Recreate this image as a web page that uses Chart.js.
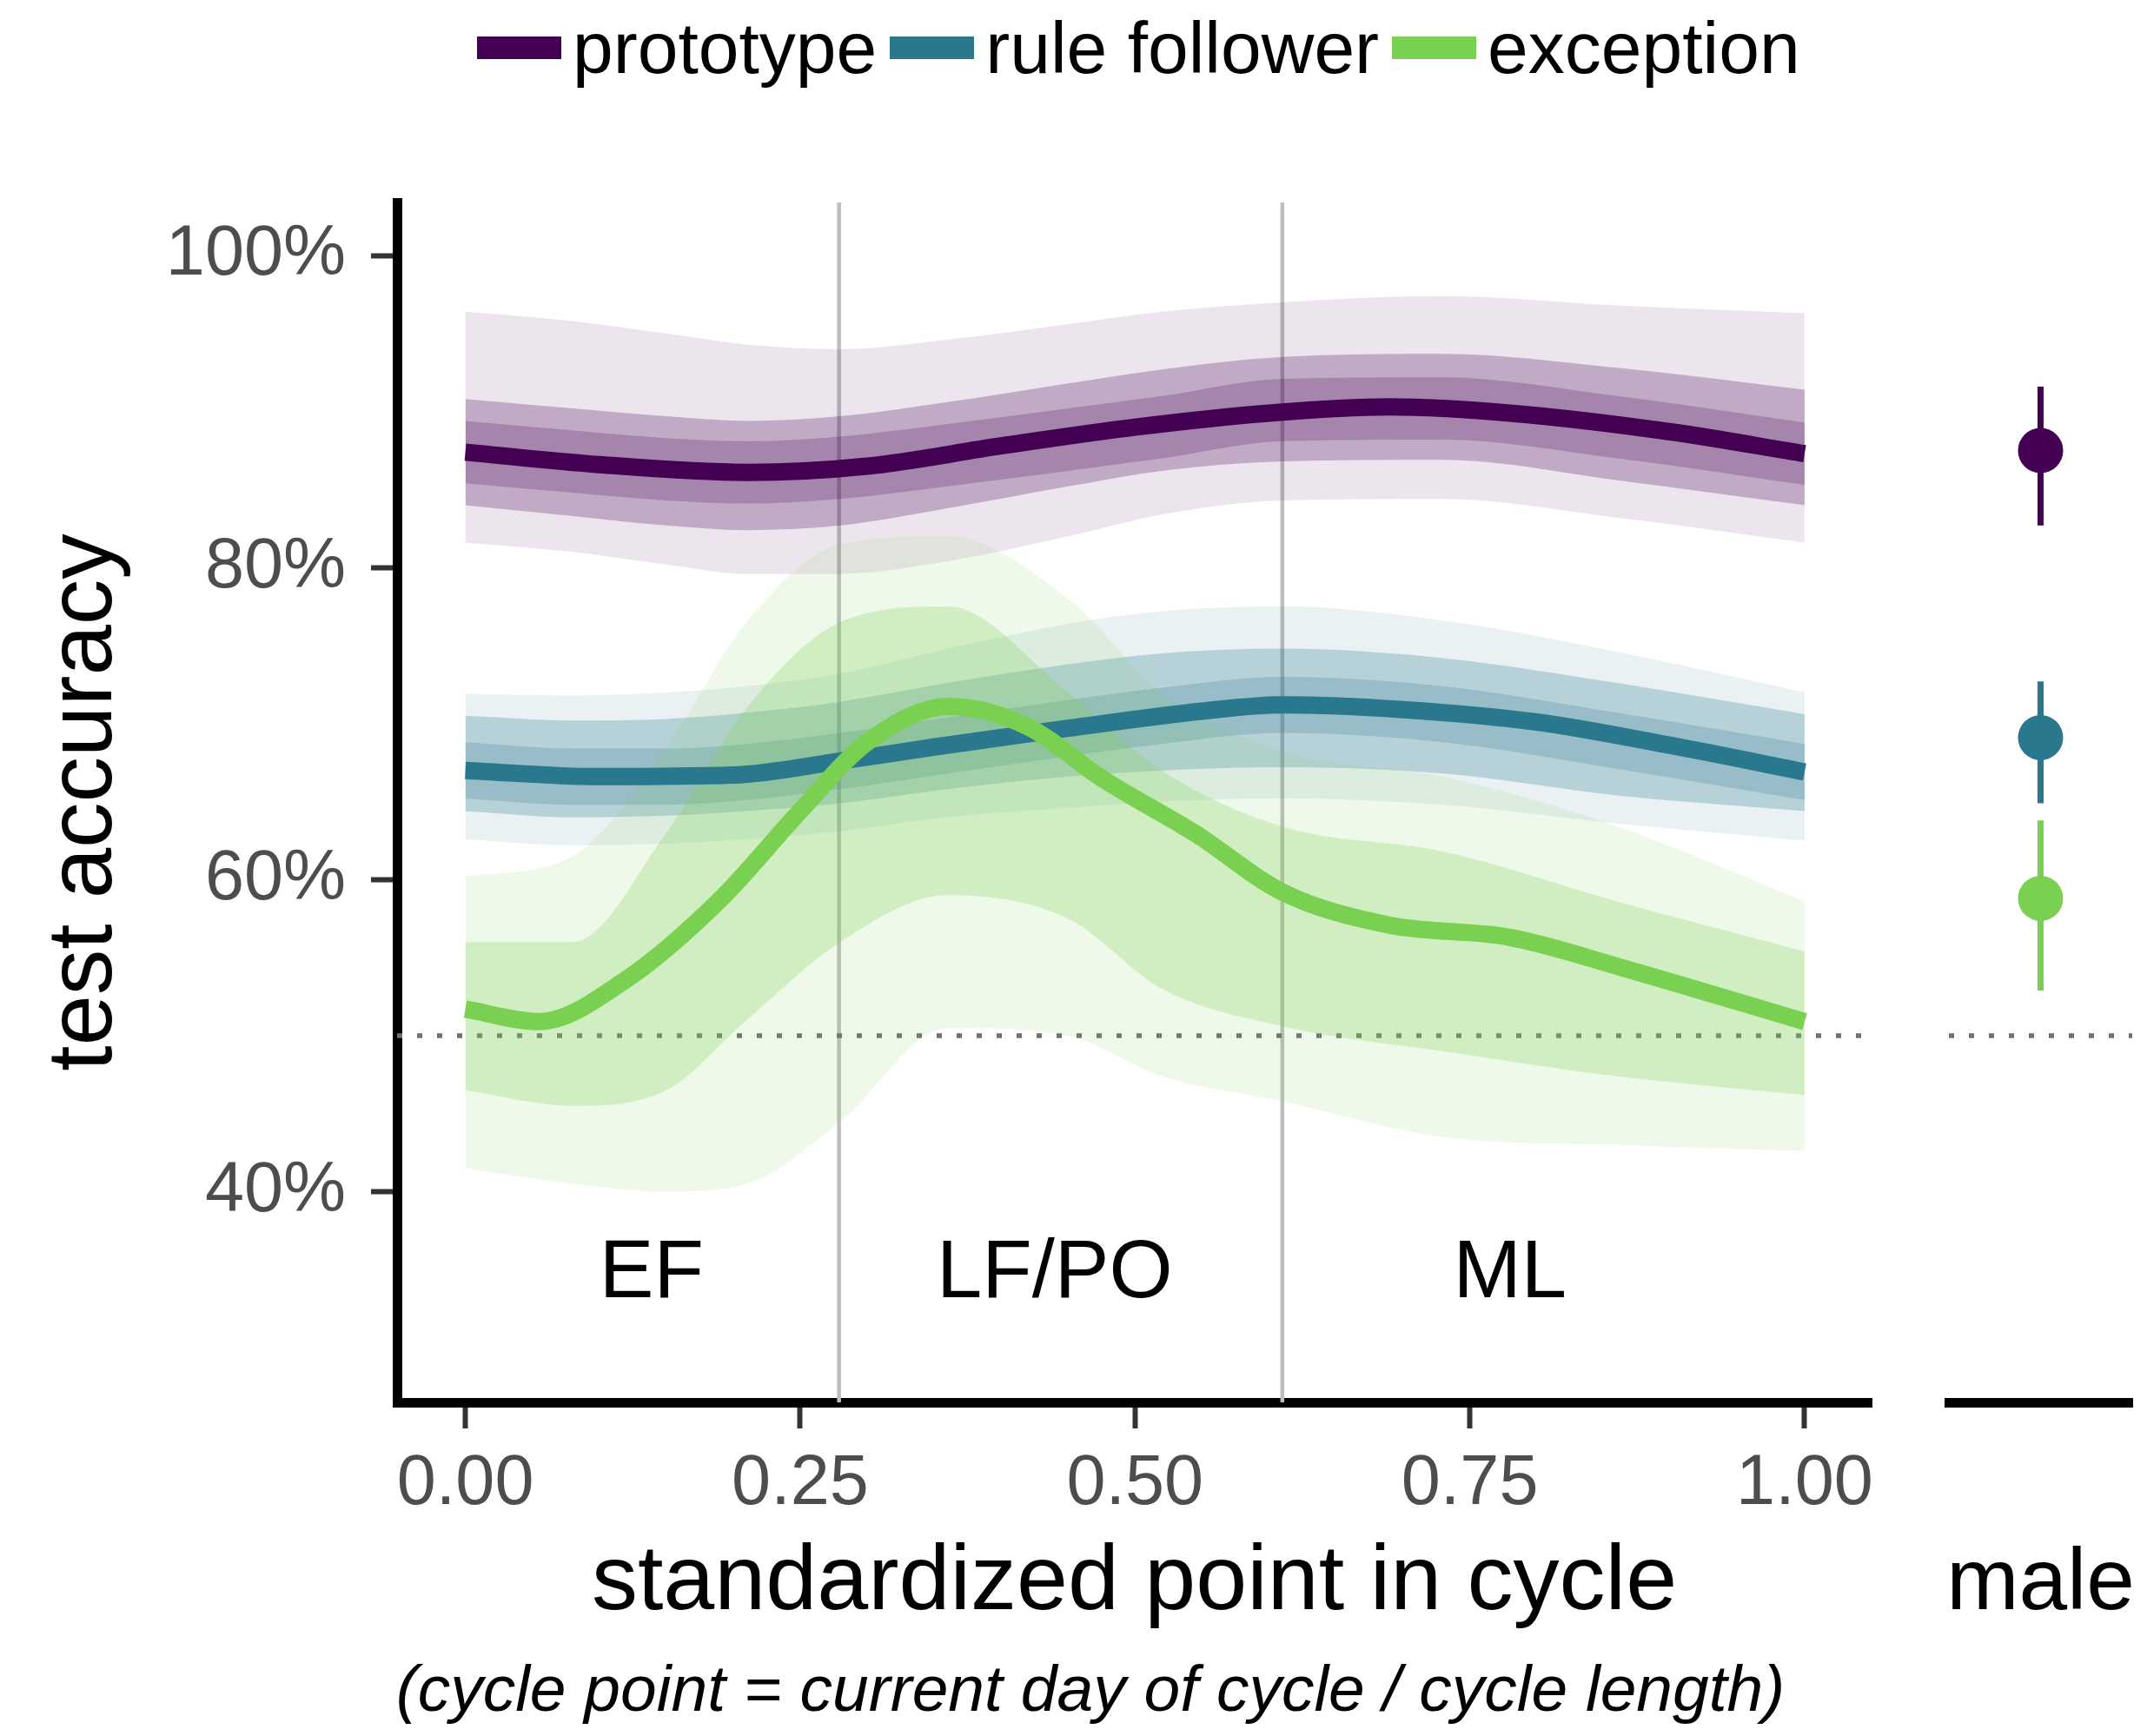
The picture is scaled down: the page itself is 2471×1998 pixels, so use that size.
<!DOCTYPE html>
<html>
<head>
<meta charset="utf-8">
<script src="https://cdn.jsdelivr.net/npm/chart.js@4.4.1/dist/chart.umd.min.js"></script>
<style>
  body { margin: 0; background: #fff; width: 2471px; height: 1998px; overflow: hidden; position: relative;
         font-family: 'Liberation Sans', Arial, sans-serif; }
  canvas { position: absolute; top: 0; }
  #main { left: 0; }
  #male { left: 2200px; }
  #legend { position: absolute; left: 549px; top: 13px; display: flex; align-items: center;
            font-size: 84px; line-height: 84px; color: #000; white-space: nowrap; }
  #legend .sw { display: inline-block; width: 97px; height: 26px; margin-right: 13px; }
  #legend .lbl { margin-right: 15px; }
  #note { position: absolute; left: 0; width: 2510px; top: 1906px; text-align: center;
          font-size: 75px; line-height: 75px; font-style: italic; color: #000; white-space: nowrap; }
</style>
</head>
<body>
<div id="legend"></div>
<canvas id="main" width="2471" height="1998"></canvas>
<canvas id="male" width="271" height="1998"></canvas>
<div id="note">(cycle point = current day of cycle / cycle length)</div>
<script>
const FONT = "'Liberation Sans', Arial, sans-serif";

// axis ticks and reference marks
const xTicks = [0, 0.25, 0.5, 0.75, 1];
const yTicks = [40, 60, 80, 100];
const chanceLevel = 50;
const phaseBounds = [0.279, 0.61];
const phaseNames = ['EF', 'LF/PO', 'ML'];
const phaseLabelX = [0.139, 0.44, 0.78];
const phaseLabelY = 34.7;

const groups = ['prototype', 'rule follower', 'exception'];
const colors = ['#440154', '#2A788E', '#7AD151'];

// posterior mean curves
const prototypeX = [0, 0.1, 0.21, 0.3, 0.4, 0.5, 0.6, 0.69, 0.78, 0.9, 1.0];
const prototypeY = [87.4, 86.6, 86.1, 86.5, 87.8, 89.0, 89.9, 90.3, 89.9, 88.7, 87.3];
const ruleX = [0, 0.1, 0.2, 0.28, 0.35, 0.45, 0.55, 0.61, 0.7, 0.8, 0.9, 1.0];
const ruleY = [67.0, 66.6, 66.7, 67.6, 68.5, 69.7, 70.8, 71.2, 70.9, 70.1, 68.6, 66.9];
const exceptionX = [0, 0.055, 0.12, 0.19, 0.25, 0.3, 0.361, 0.42, 0.475, 0.546, 0.61, 0.689, 0.78, 0.866, 1.0];
const exceptionY = [51.7, 50.9, 53.6, 58.7, 64.4, 68.8, 71.1, 69.8, 66.5, 62.9, 59.2, 57.1, 56.3, 54.3, 50.9];

// spread of the posterior draws: outer = faint, inner = dense, core = densest
const bandX = [0, 0.08, 0.15, 0.21, 0.28, 0.36, 0.45, 0.52, 0.61, 0.73, 0.86, 1.0];
const protoOuterHi = [96.4, 95.8, 95.0, 94.3, 94.0, 94.6, 95.6, 96.4, 97.0, 97.4, 96.8, 96.3];
const protoOuterLo = [81.6, 81.0, 80.2, 79.6, 79.6, 80.4, 82.0, 83.4, 84.3, 84.4, 83.2, 81.6];
const protoInnerHi = [90.8, 90.2, 89.7, 89.4, 89.7, 90.6, 91.8, 92.7, 93.5, 93.7, 92.8, 91.4];
const protoInnerLo = [84.0, 83.3, 82.7, 82.4, 82.7, 83.8, 85.2, 86.2, 86.8, 86.9, 85.6, 84.0];
const protoCoreHi = [89.4, 88.8, 88.3, 88.1, 88.4, 89.2, 90.2, 91.0, 92.1, 92.2, 91.0, 89.3];
const protoCoreLo = [85.4, 84.8, 84.3, 84.1, 84.4, 85.2, 86.2, 87.0, 88.1, 88.2, 87.0, 85.3];
const ruleOuterHi = [71.9, 71.8, 72.0, 72.4, 73.2, 74.8, 76.4, 77.2, 77.5, 76.6, 74.6, 72.0];
const ruleOuterLo = [62.6, 62.2, 62.3, 62.6, 63.1, 64.0, 64.6, 65.0, 65.2, 64.8, 63.6, 62.5];
const ruleInnerHi = [70.5, 70.2, 70.3, 70.7, 71.4, 72.6, 73.8, 74.5, 74.8, 74.2, 72.6, 70.6];
const ruleInnerLo = [64.4, 64.0, 64.1, 64.4, 64.9, 65.8, 66.6, 67.0, 67.2, 66.8, 65.4, 64.4];
const ruleCoreHi = [68.8, 68.4, 68.4, 68.7, 69.4, 70.4, 71.5, 72.3, 73.0, 72.4, 70.7, 68.7];
const ruleCoreLo = [65.2, 64.8, 64.8, 65.1, 65.8, 66.8, 67.9, 68.7, 69.4, 68.8, 67.1, 65.1];
const excOuterHi = [60.2, 61.5, 68.5, 76.5, 81.5, 82.0, 78.0, 72.0, 68.2, 66.6, 63.4, 58.6];
const excOuterLo = [41.5, 40.5, 40.0, 40.5, 44.5, 50.5, 50.0, 47.4, 45.8, 43.5, 43.0, 42.6];
const excInnerHi = [56.0, 56.0, 63.0, 71.0, 76.5, 77.5, 72.0, 67.0, 63.4, 61.8, 58.6, 55.4];
const excInnerLo = [46.5, 45.5, 46.5, 51.0, 56.0, 59.0, 57.5, 53.0, 50.6, 49.0, 47.4, 46.2];

// male comparison group: mean and interval
const maleLabels = ['male'];
const maleMean = [87.5, 69.1, 58.8];
const maleLow = [82.7, 64.9, 52.9];
const maleHigh = [91.6, 72.7, 63.8];

const pts = (xs, ys) => xs.map((x, i) => ({ x: x, y: ys[i] }));

// legend (html)
const legend = document.getElementById('legend');
groups.forEach((g, i) => {
  legend.insertAdjacentHTML('beforeend',
    '<span class="sw" style="background:' + colors[i] + '"></span><span class="lbl">' + g + '</span>');
});

// band helper: upper edge fills down to the lower edge
function band(hi, lo, fillColor, order) {
  const base = { pointRadius: 0, borderWidth: 0, cubicInterpolationMode: 'monotone', order: order };
  return [
    Object.assign({ data: pts(bandX, hi), fill: '+1', backgroundColor: fillColor }, base),
    Object.assign({ data: pts(bandX, lo), fill: false }, base)
  ];
}

function meanLine(xs, ys, color, order) {
  return { data: pts(xs, ys), borderColor: color, borderWidth: 20, pointRadius: 0, fill: false,
           cubicInterpolationMode: 'monotone', borderCapStyle: 'butt', order: order };
}

function drawChance(ctx, area, yScale) {
  const py = yScale.getPixelForValue(chanceLevel);
  ctx.save();
  ctx.strokeStyle = '#707070';
  ctx.lineWidth = 5.5;
  ctx.setLineDash([6, 17]);
  ctx.beginPath();
  ctx.moveTo(area.left, py);
  ctx.lineTo(area.right, py);
  ctx.stroke();
  ctx.restore();
}

const guides = {
  id: 'guides',
  beforeDatasetsDraw(chart) {
    const { ctx, chartArea, scales } = chart;
    ctx.save();
    ctx.strokeStyle = '#bebebe';
    ctx.lineWidth = 4.5;
    phaseBounds.forEach(b => {
      const px = scales.x.getPixelForValue(b);
      ctx.beginPath();
      ctx.moveTo(px, chartArea.top);
      ctx.lineTo(px, chartArea.bottom);
      ctx.stroke();
    });
    ctx.restore();
    drawChance(ctx, chartArea, scales.y);
  },
  afterDatasetsDraw(chart) {
    const { ctx, scales } = chart;
    ctx.save();
    ctx.fillStyle = '#000';
    ctx.font = '94px ' + FONT;
    ctx.textAlign = 'center';
    ctx.textBaseline = 'middle';
    phaseNames.forEach((n, i) => {
      ctx.fillText(n, scales.x.getPixelForValue(phaseLabelX[i]), scales.y.getPixelForValue(phaseLabelY));
    });
    ctx.restore();
  }
};

const mainDatasets = [].concat(
  band(protoOuterHi, protoOuterLo, 'rgba(68,1,84,0.10)', 18),
  band(protoInnerHi, protoInnerLo, 'rgba(68,1,84,0.26)', 17),
  band(protoCoreHi, protoCoreLo, 'rgba(68,1,84,0.22)', 16),
  band(ruleOuterHi, ruleOuterLo, 'rgba(42,120,142,0.10)', 15),
  band(ruleInnerHi, ruleInnerLo, 'rgba(42,120,142,0.26)', 14),
  band(ruleCoreHi, ruleCoreLo, 'rgba(42,120,142,0.22)', 13),
  band(excOuterHi, excOuterLo, 'rgba(122,209,81,0.12)', 11),
  band(excInnerHi, excInnerLo, 'rgba(122,209,81,0.26)', 10),
  [meanLine(prototypeX, prototypeY, colors[0], 2),
   meanLine(ruleX, ruleY, colors[1], 1),
   meanLine(exceptionX, exceptionY, colors[2], 0)]
);

const axisBorder = { display: true, color: '#000', width: 11 };
const tickGrid = { drawOnChartArea: false, drawTicks: true, tickLength: 30, tickWidth: 6, tickColor: '#333333' };

new Chart(document.getElementById('main'), {
  type: 'line',
  data: { datasets: mainDatasets },
  options: {
    responsive: false,
    animation: false,
    devicePixelRatio: 1,
    layout: { padding: { top: 233, right: 317, left: 0, bottom: 99 } },
    plugins: {
      legend: { display: false },
      tooltip: { enabled: false }
    },
    scales: {
      x: {
        type: 'linear',
        min: -0.051,
        max: 1.05,
        afterBuildTicks: s => { s.ticks = xTicks.map(v => ({ value: v })); },
        afterFit: s => { s.height = 285; },
        ticks: { callback: v => v.toFixed(2), color: '#4d4d4d', font: { family: FONT, size: 81 },
                 padding: 16, maxRotation: 0, autoSkip: false },
        grid: tickGrid,
        border: axisBorder,
        title: { display: true, text: 'standardized point in cycle', color: '#000',
                 font: { family: FONT, size: 106, weight: 'normal' }, padding: { top: 0, bottom: 13 } }
      },
      y: {
        min: 26.5,
        max: 103.4,
        afterBuildTicks: s => { s.ticks = yTicks.map(v => ({ value: v })); },
        afterFit: s => { s.width = 457; },
        ticks: { callback: v => v + '%', color: '#4d4d4d', font: { family: FONT, size: 81 }, padding: 29 },
        grid: tickGrid,
        border: axisBorder,
        title: { display: true, text: 'test accuracy', color: '#000',
                 font: { family: FONT, size: 105, weight: 'normal' }, padding: { top: 36, bottom: 0 } }
      }
    }
  },
  plugins: [guides]
});

// male panel
const maleDatasets = [];
groups.forEach((g, i) => {
  maleDatasets.push({
    data: [{ x: maleLabels[0], y: maleLow[i] }, { x: maleLabels[0], y: maleHigh[i] }],
    borderColor: colors[i], borderWidth: 7, pointRadius: 0, fill: false, order: 1
  });
  maleDatasets.push({
    data: [{ x: maleLabels[0], y: maleMean[i] }],
    showLine: false, pointRadius: 26, pointBorderWidth: 0,
    pointBackgroundColor: colors[i], borderColor: colors[i], order: 0
  });
});

const maleGuides = {
  id: 'maleGuides',
  beforeDatasetsDraw(chart) {
    drawChance(chart.ctx, chart.chartArea, chart.scales.y);
  },
  afterDraw(chart) {
    // panel label under the axis, not squeezed to the panel width
    const { ctx, chartArea, scales } = chart;
    ctx.save();
    ctx.fillStyle = '#000';
    ctx.font = '100px ' + FONT;
    ctx.textAlign = 'center';
    ctx.textBaseline = 'alphabetic';
    ctx.fillText(maleLabels[0], scales.x.getPixelForValue(0), chartArea.bottom + 238);
    ctx.restore();
  }
};

new Chart(document.getElementById('male'), {
  type: 'line',
  data: { labels: maleLabels, datasets: maleDatasets },
  options: {
    responsive: false,
    animation: false,
    devicePixelRatio: 1,
    layout: { autoPadding: false, padding: { top: 233, left: 43, right: 17, bottom: 99 } },
    plugins: { legend: { display: false }, tooltip: { enabled: false } },
    scales: {
      x: {
        type: 'category',
        offset: true,
        afterFit: s => { s.height = 285; },
        ticks: { display: false },
        grid: { display: false, drawTicks: false },
        border: axisBorder
      },
      y: { display: false, min: 26.5, max: 103.4 }
    }
  },
  plugins: [maleGuides]
});
</script>
</body>
</html>
